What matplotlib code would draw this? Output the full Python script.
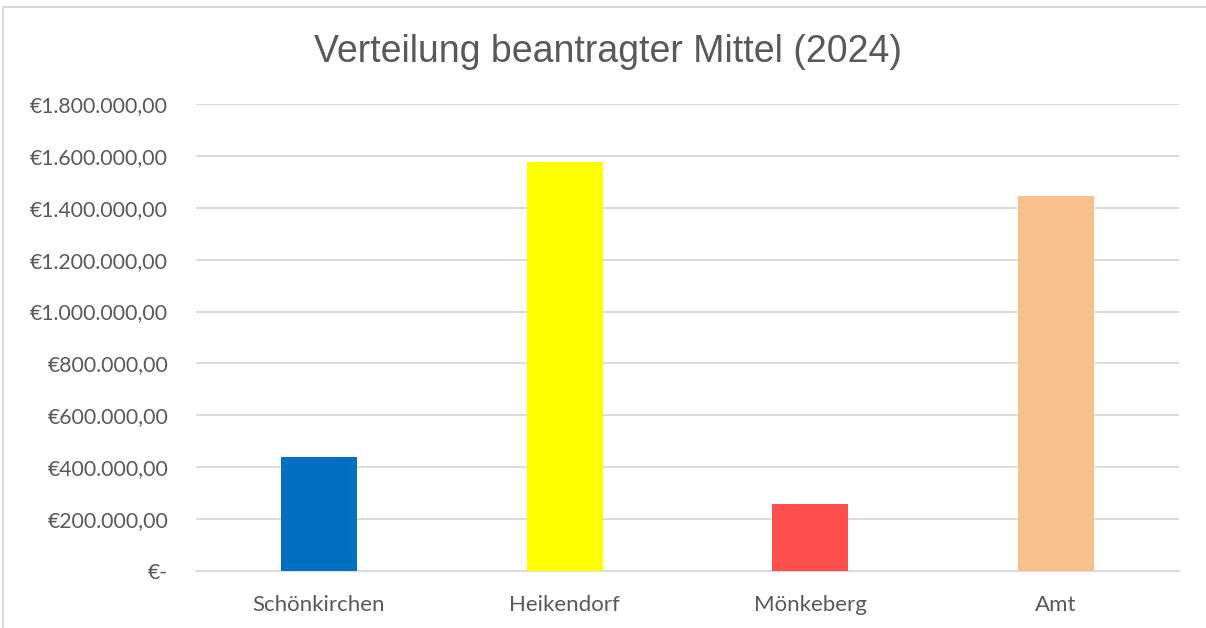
import matplotlib
matplotlib.use("Agg")
import matplotlib.pyplot as plt
from matplotlib.patches import Rectangle

categories = ["Schönkirchen", "Heikendorf", "Mönkeberg", "Amt"]
values = [440000, 1577000, 258000, 1445000]
colors = ["#0070C0", "#FFFF00", "#FF5050", "#F9C18E"]
yticks = [0, 200000, 400000, 600000, 800000, 1000000, 1200000, 1400000, 1600000, 1800000]
title = "Verteilung beantragter Mittel (2024)"


def fmt(v):
    if v == 0:
        return "€-"
    s = f"{v:,.2f}"
    s = s.replace(",", "X").replace(".", ",").replace("X", ".")
    return "€" + s


fig = plt.figure(figsize=(12.06, 6.28), dpi=100)
fig.patch.set_facecolor("white")
# outer border (top and left visible)
fig.add_artist(Rectangle((3 / 1206, -0.1), 1.2, 1 - 7 / 628 + 0.1,
                         transform=fig.transFigure, fill=False,
                         edgecolor="#d0d0d0", linewidth=1.2))

ax = fig.add_axes([196 / 1206, 1 - 571 / 628, (1179 - 196) / 1206, (571 - 104) / 628])
x = range(len(categories))
ax.bar(x, values, width=0.31, color=colors, zorder=3)
ax.set_xlim(-0.5, len(categories) - 0.5)
ax.set_ylim(0, 1800000)
ax.set_yticks(yticks)
ax.set_yticklabels([fmt(v) for v in yticks], fontname="Lato", fontsize=15.3, color="#595959")
ax.set_xticks(list(x))
ax.set_xticklabels(categories, fontname="Lato", fontsize=16, color="#595959")
ax.tick_params(axis="both", length=0)
ax.tick_params(axis="y", pad=20)
ax.tick_params(axis="x", pad=17)
ax.grid(axis="y", color="#d9d9d9", linewidth=1.3, zorder=0)
for s in ["top", "right", "left"]:
    ax.spines[s].set_visible(False)
ax.spines["bottom"].set_color("#d9d9d9")
ax.spines["bottom"].set_linewidth(1.3)

fig.text(608 / 1206, 1 - 52 / 628, title, ha="center", va="center",
         fontname="Liberation Sans", fontsize=27, color="#595959")

fig.savefig("out.png", dpi=100, facecolor="white")
